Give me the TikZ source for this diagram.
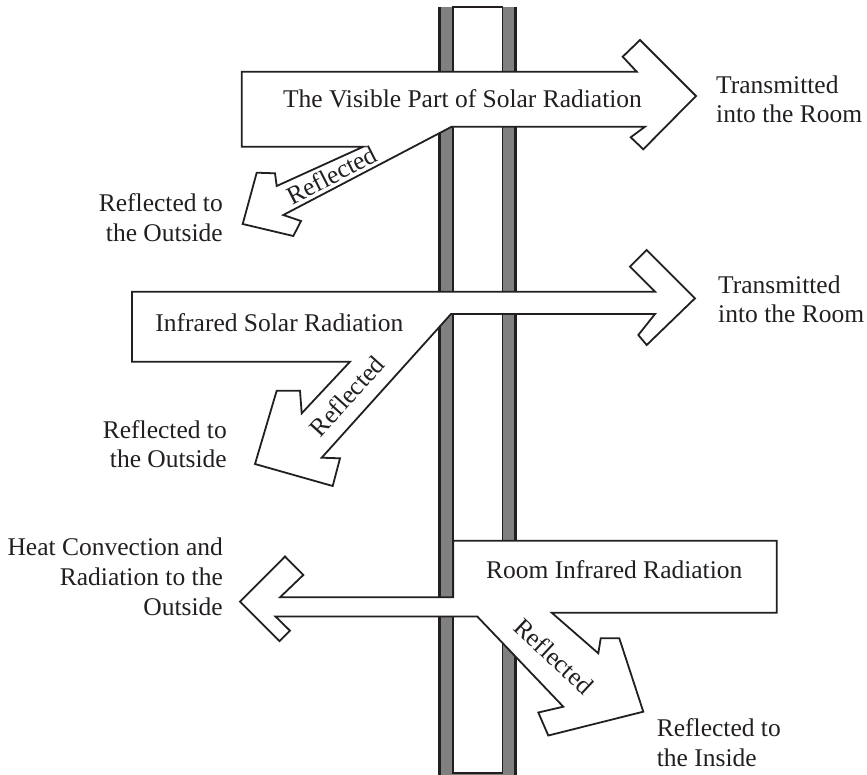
\documentclass[tikz,border=0pt]{standalone}
\usepackage{fontspec}
\setmainfont{Liberation Serif}
\definecolor{inkc}{HTML}{231F20}
\definecolor{glassc}{HTML}{808080}
\begin{document}
\begin{tikzpicture}[x=1pt,y=-1pt,
  ink/.style={draw=inkc, line width=1.8pt, line join=miter},
  beam/.style={ink, fill=white},
  paneedge/.style={draw=inkc, line width=2.4pt},
  gap/.style={draw=inkc, fill=white, line width=1.7pt},
  lbl/.style={inner sep=0pt, text=inkc, font=\fontsize{25.5}{30}\selectfont}]

\path[use as bounding box] (0,0) rectangle (867,774);

% double glazing: two grey panes with an air gap between them
\fill[glassc] (439.5,7) rectangle (515.3,776);
\draw[paneedge] (439.5,7) -- (439.5,776);
\draw[paneedge] (515.3,7) -- (515.3,776);
\draw[gap] (453.2,7) rectangle (502.5,772.7);

% visible solar radiation: transmitted beam and reflected beam
\draw[beam] (241.7,71.7) -- (636.7,71.7) -- (622.7,56.7) -- (640,40) -- (696,96)
  -- (643.3,149.3) -- (630.7,137.3) -- (645,126.7) -- (451.7,126.7)
  -- (283.3,215) -- (301,221) -- (293.3,236) -- (242.7,224) -- (256.7,172.7)
  -- (275,173.3) -- (276.7,186) -- (363.3,146.7) -- (241.7,146.7) -- cycle;

% infrared solar radiation
\draw[beam] (132,291.7) -- (655,291.7) -- (630,266.7) -- (646.7,250) -- (695,298.3)
  -- (646.7,345) -- (638.3,335) -- (655,314) -- (451,314)
  -- (321.7,457.7) -- (340,458.3) -- (332.7,486) -- (255,464) -- (276.7,390.7)
  -- (300,390.7) -- (301.7,413.3) -- (350,361.7) -- (132,361.7) -- cycle;

% room infrared radiation: outgoing beam and beam reflected back inside
\draw[beam] (453.2,540.7) -- (776.7,540.7) -- (776.7,612.7) -- (551.7,612.7)
  -- (598.3,653.3) -- (600.7,638.3) -- (619.3,638.3) -- (643.3,711.7)
  -- (548.3,735.5) -- (538.3,712.5) -- (563.3,706.7) -- (477.3,616.5)
  -- (275.5,616.5) -- (290,630.7) -- (279.5,641.2) -- (240,601.7)
  -- (285,556.5) -- (303.3,575) -- (280,597.3) -- (453.2,597.3) -- cycle;

% beam titles
\node[lbl, anchor=base] (vis) at (462.5,107.3) {The Visible Part of Solar Radiation};
\node[lbl, anchor=base] (irs) at (279.4,331.7) {Infrared Solar Radiation};
\node[lbl, anchor=base] (rir) at (614.2,578.3) {Room Infrared Radiation};

% labels along the reflected beams
\node[lbl, rotate=27] (rfa) at (331.7,175) {Reflected};
\node[lbl, rotate=48] (rfb) at (347,396) {Reflected};
\node[lbl, rotate=-43] (rfc) at (554,656) {Reflected};

% outcome labels
\node[lbl, anchor=base west] (tra) at (716,93) {Transmitted};
\node[lbl, anchor=base west] (trb) at (716,122) {into the Room};
\node[lbl, anchor=base west] (trc) at (718,293.5) {Transmitted};
\node[lbl, anchor=base west] (trd) at (718,322.5) {into the Room};

\node[lbl, anchor=base east] (roa) at (223,211.7) {Reflected to};
\node[lbl, anchor=base east] (rob) at (223,241.7) {the Outside};
\node[lbl, anchor=base east] (roc) at (227,438.5) {Reflected to};
\node[lbl, anchor=base east] (rod) at (227,467.5) {the Outside};

\node[lbl, anchor=base east] (hca) at (223,555.7) {Heat Convection and};
\node[lbl, anchor=base east] (hcb) at (223,585.7) {Radiation to the};
\node[lbl, anchor=base east] (hcc) at (223,615.2) {Outside};

\node[lbl, anchor=base west] (ria) at (656.7,736.7) {Reflected to};
\node[lbl, anchor=base west] (rib) at (656.7,766.7) {the Inside};
\end{tikzpicture}
\end{document}
